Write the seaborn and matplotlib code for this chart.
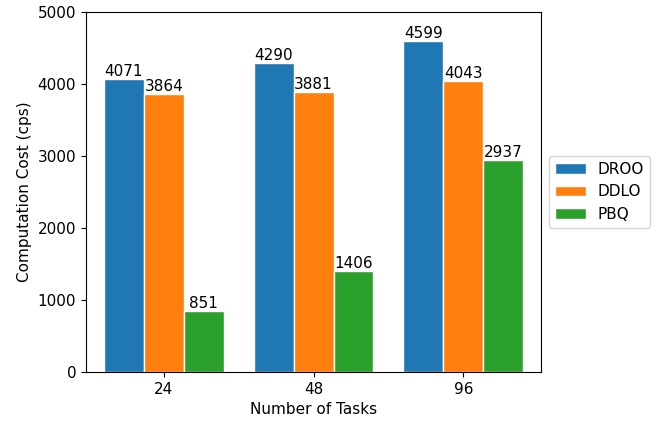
import pandas as pd
import matplotlib
matplotlib.use('Agg')
import matplotlib.pyplot as plt
import seaborn as sns

tasks = ['24', '48', '96']
methods = ['DROO', 'DDLO', 'PBQ']
droo = [4071, 4290, 4599]
ddlo = [3864, 3881, 4043]
pbq = [851, 1406, 2937]

df = pd.DataFrame({
    'tasks': tasks * 3,
    'method': [m for m in methods for _ in tasks],
    'cost': droo + ddlo + pbq,
})

plt.rcParams['font.size'] = 11

fig = plt.figure(figsize=(6.56, 4.24), dpi=100)
ax = fig.add_axes([0.131, 0.123, 0.694, 0.849])
sns.barplot(data=df, x='tasks', y='cost', hue='method', palette='tab10',
            saturation=1, edgecolor='white', linewidth=1, width=0.8,
            errorbar=None, ax=ax)

for cont in ax.containers:
    ax.bar_label(cont, fmt='%d', fontsize=11, padding=0)

ax.set_xlim(-0.52, 2.52)
ax.set_ylim(0, 5000)
ax.set_xlabel('Number of Tasks')
ax.set_ylabel('Computation Cost (cps)')
ax.legend(loc='center left', bbox_to_anchor=(1, 0.5), title=None)

fig.savefig('out.png', dpi=100)
